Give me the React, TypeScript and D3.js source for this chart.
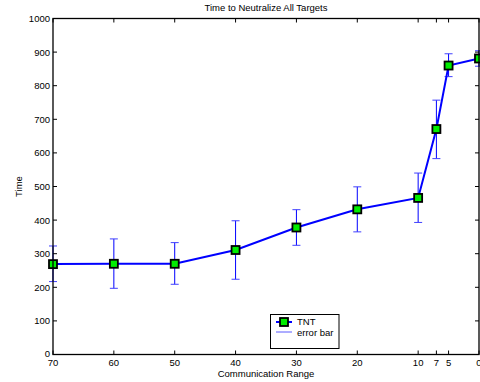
import { useMemo } from "react";
import * as d3 from "d3";

// communication range on the x axis (reversed: 70 -> 0)
const ranges = [70, 60, 50, 40, 30, 20, 10, 7, 5, 0];
const meanTime = [269, 270, 270, 311, 378, 432, 466, 671, 860, 881];
const errLow = [217, 197, 209, 224, 325, 365, 393, 583, 827, 858];
const errHigh = [323, 344, 333, 398, 431, 499, 540, 757, 895, 904];
const yTicks = [0, 100, 200, 300, 400, 500, 600, 700, 800, 900, 1000];

const W = 480;
const H = 382;
const PLOT = { left: 53, right: 479, top: 18.5, bottom: 354.5 };
const FONT = "'Liberation Sans', Arial, Helvetica, sans-serif";

export default function App() {
  const x = useMemo(
    () => d3.scaleLinear().domain([70, 0]).range([PLOT.left, PLOT.right]),
    []
  );
  const y = useMemo(
    () => d3.scaleLinear().domain([0, 1000]).range([PLOT.bottom, PLOT.top]),
    []
  );

  const points = ranges.map((r, i) => ({
    r,
    t: meanTime[i],
    lo: errLow[i],
    hi: errHigh[i],
  }));

  const line = d3
    .line<{ r: number; t: number }>()
    .x((d) => x(d.r))
    .y((d) => y(d.t));

  const tickLen = 4;
  const cap = 4;
  const mk = 8; // marker size

  return (
    <svg
      width={W}
      height={H}
      style={{ position: "absolute", left: 0, top: 0, background: "#fff" }}
      fontFamily={FONT}
    >
      <rect width={W} height={H} fill="#fff" />

      {/* title */}
      <text x={(PLOT.left + PLOT.right) / 2} y={11} fontSize={9.5} textAnchor="middle">
        Time to Neutralize All Targets
      </text>

      {/* error bars */}
      <g stroke="#0000ff" strokeWidth={1} fill="none">
        {points.map((d, i) => (
          <g key={i}>
            <line x1={x(d.r)} x2={x(d.r)} y1={y(d.lo)} y2={y(d.hi)} />
            <line x1={x(d.r) - cap} x2={x(d.r) + cap} y1={y(d.lo)} y2={y(d.lo)} stroke="#4040ff" />
            <line x1={x(d.r) - cap} x2={x(d.r) + cap} y1={y(d.hi)} y2={y(d.hi)} stroke="#4040ff" />
          </g>
        ))}
      </g>

      {/* mean line */}
      <path d={line(points) ?? ""} fill="none" stroke="#0000ff" strokeWidth={2} />

      {/* markers */}
      {points.map((d, i) => (
        <rect
          key={i}
          x={x(d.r) - mk / 2}
          y={y(d.t) - mk / 2}
          width={mk}
          height={mk}
          fill="#00ee00"
          stroke="#000"
          strokeWidth={1.8}
        />
      ))}

      {/* axes box */}
      <rect
        x={PLOT.left}
        y={PLOT.top}
        width={PLOT.right - PLOT.left}
        height={PLOT.bottom - PLOT.top}
        fill="none"
        stroke="#000"
        strokeWidth={1.3}
      />

      {/* x ticks + labels */}
      <g stroke="#000" strokeWidth={1}>
        {ranges.map((r) => (
          <g key={r}>
            <line x1={x(r)} x2={x(r)} y1={PLOT.bottom} y2={PLOT.bottom - tickLen} />
            <line x1={x(r)} x2={x(r)} y1={PLOT.top} y2={PLOT.top + tickLen} />
          </g>
        ))}
      </g>
      <g fontSize={9.5} textAnchor="middle">
        {ranges.map((r) => (
          <text key={r} x={x(r)} y={366}>
            {r}
          </text>
        ))}
      </g>

      {/* y ticks + labels */}
      <g stroke="#000" strokeWidth={1}>
        {yTicks.map((t) => (
          <g key={t}>
            <line x1={PLOT.left} x2={PLOT.left + tickLen} y1={y(t)} y2={y(t)} />
            <line x1={PLOT.right} x2={PLOT.right - tickLen} y1={y(t)} y2={y(t)} />
          </g>
        ))}
      </g>
      <g fontSize={9.5} textAnchor="end">
        {yTicks.map((t) => (
          <text key={t} x={PLOT.left - 3} y={y(t) + (t === 0 ? 2.5 : 3.5)}>
            {t}
          </text>
        ))}
      </g>

      {/* axis labels */}
      <text
        x={(PLOT.left + PLOT.right) / 2}
        y={377}
        fontSize={9.5}
        textAnchor="middle"
      >
        Communication Range
      </text>
      <text
        transform={`translate(22,${(PLOT.top + PLOT.bottom) / 2}) rotate(-90)`}
        fontSize={9.5}
        textAnchor="middle"
      >
        Time
      </text>

      {/* legend */}
      <g>
        <rect x={270.5} y={314.5} width={68.5} height={34} fill="#fff" stroke="#000" strokeWidth={1} />
        <line x1={276} x2={292} y1={322} y2={322} stroke="#0000ff" strokeWidth={2} />
        <rect x={280} y={318} width={mk} height={mk} fill="#00ee00" stroke="#000" strokeWidth={1.8} />
        <text x={297} y={325} fontSize={9.5}>
          TNT
        </text>
        <line x1={276} x2={292} y1={332} y2={332} stroke="#5a5aff" strokeWidth={1} />
        <text x={297} y={335.5} fontSize={9.5}>
          error bar
        </text>
      </g>
    </svg>
  );
}
